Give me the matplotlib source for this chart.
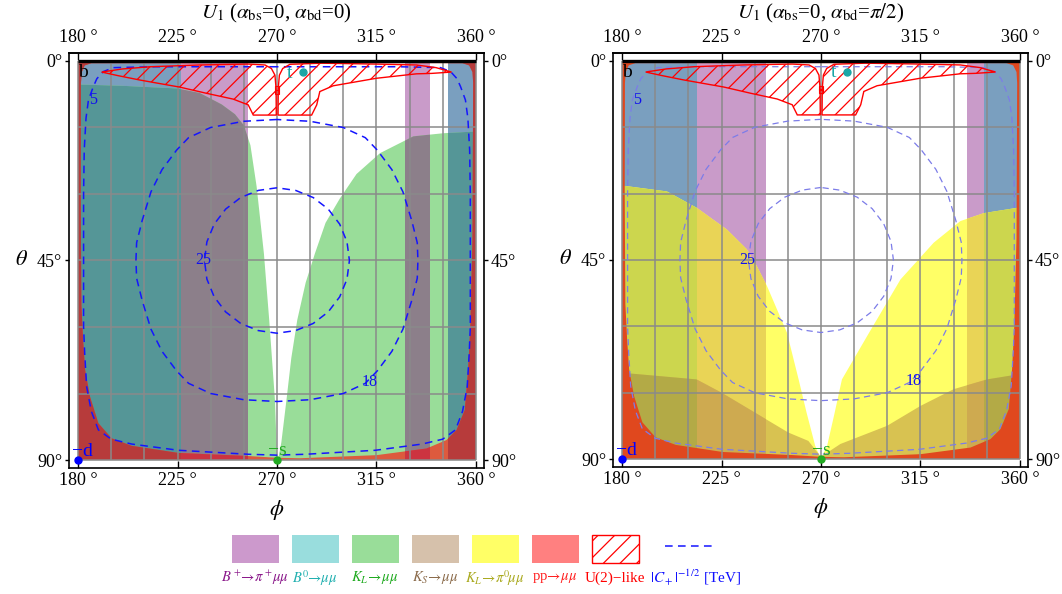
import numpy as np
import matplotlib
matplotlib.use("Agg")
import matplotlib.pyplot as plt
from matplotlib.patches import Polygon, Rectangle, PathPatch
from matplotlib.path import Path

plt.rcParams['font.family'] = ['Liberation Serif', 'DejaVu Serif']
plt.rcParams['mathtext.fontset'] = 'stix'
plt.rcParams['hatch.linewidth'] = 0.9

# ---- axes / grid ----
phi_ticks = [180, 225, 270, 315, 360]
theta_ticks = [0, 45, 90]
grid_phi = [180, 195, 210, 225, 240, 255, 270, 285, 300, 315, 330, 345, 360]
grid_theta = [0, 15, 30, 45, 60, 75, 90]
titles = [r'$U_1$ ($\alpha_{\rm bs}$=0, $\alpha_{\rm bd}$=0)',
          r'$U_1$ ($\alpha_{\rm bs}$=0, $\alpha_{\rm bd}$=$\pi/2$)']

# ---- vertical exclusion bands (phi ranges) ----
b0_bands = [[(180, 226.5), (347.5, 360)], [(180, 213.8), (344.0, 360)]]
bp_bands = [[(226.5, 257.0), (327.9, 339.2)], [(213.8, 245.2), (335.9, 344.0)]]

# ---- K_L -> mu mu boundaries (panel 1), excluded below the curve ----
kl_left_phi = [180, 200, 225, 235, 245, 251, 255, 258, 260.8, 264.1, 266.5, 269.1, 270]
kl_left_theta = [5.3, 5.6, 6.2, 7.2, 9.8, 12.0, 14.5, 19.0, 28.3, 43.4, 58.4, 76.5, 89.0]
kl_right_phi = [270.5, 272, 274.3, 276.5, 279.2, 283.0, 287.2, 292.0, 298.5, 306.0, 316.6, 331.7, 345.2, 360]
kl_right_theta = [90, 86, 76.5, 67.0, 58.4, 50.0, 43.4, 36.5, 31.0, 25.5, 20.8, 17.0, 16.3, 15.9]

# ---- K_L -> pi0 mu mu boundaries (panel 2) ----
yl_left_phi = [180, 182.1, 200.3, 213.8, 227.4, 236.5, 241.0, 245.6, 254.6, 259.9, 263.5, 267.4, 270]
yl_left_theta = [28.2, 28.3, 29.5, 33.2, 38.1, 42.6, 46.4, 50.9, 61.4, 72.0, 79.5, 87.0, 90]
yl_right_phi = [270, 272.8, 276.0, 279.5, 290.9, 306.0, 321.0, 333.1, 343.7, 358.8, 360]
yl_right_theta = [90, 87.0, 80.0, 72.0, 62.2, 49.4, 41.1, 36.2, 34.4, 33.2, 33.1]

# ---- K_S -> mu mu boundary (panel 2) ----
ks_phi = [180, 213.7, 225, 240.1, 255.2, 264.3, 270, 278.8, 299.9, 315, 330.1, 345.2, 360]
ks_theta = [70.5, 72.0, 75.0, 79.5, 84.0, 85.9, 89.5, 86.6, 82.5, 78.0, 74.2, 72.0, 70.8]

# ---- pp -> mu mu allowed region (excluded outside) ----
pp_phi = [270, 186, 183, 181.7, 181.3, 181.2, 181.5, 182.3, 183.2, 185.4, 189.2, 195.2, 204.3,
          225.4, 257, 270, 280.4, 315.1, 337.7, 346.7, 351.3, 355.0, 356.5, 357.5, 358.5, 358.8,
          358.5, 357, 354, 270]
pp_theta = [0.5, 0.5, 1.0, 2.5, 5, 30, 55, 63, 69.7, 75.7, 81.7, 85.1, 86.8, 88.4, 89.1, 89.5,
            89.6, 88.9, 87.4, 85.5, 83.2, 78.7, 69.7, 60, 40, 5, 2.5, 1.0, 0.5, 0.5]

# ---- U(2)-like hatched region (two lobes) ----
u2_left_phi = [190.7, 200, 212.6, 235, 257, 264.6, 267.5, 269.1, 269.6, 269.7,
               259.3, 257, 250.2, 238.2, 226.1, 208, 198]
u2_left_theta = [2.5, 1.8, 1.3, 0.9, 0.7, 0.9, 1.7, 3.2, 6.2, 12.2,
                 12.2, 9.9, 8.6, 7.3, 5.9, 4.3, 3.3]
u2_right_phi = [270.5, 270.6, 271.1, 272.6, 275.9, 290, 315, 333.1, 342, 349,
                340, 333.1, 315, 295.4, 289.4, 288, 285.7]
u2_right_theta = [12.2, 6.2, 3.2, 1.7, 0.75, 0.5, 0.7, 0.9, 1.5, 2.5,
                  2.8, 2.9, 3.9, 5.6, 6.9, 9.9, 12.2]
u2_mark_theta = [6.2, 6.9]

# ---- |C+|^(-1/2) contours [TeV] ----
c5_phi_half = [270, 215, 196, 191.4, 188.5, 186.9, 184.7, 183.6, 182.8, 182.5, 182.5, 182.5,
               183.0, 183.9, 186.0, 189.2, 195.0, 204.3, 225.4, 257.0, 270]
c5_theta_half = [1.3, 1.3, 1.5, 2.4, 4.0, 5.8, 8.8, 12.9, 20, 30, 45, 60,
                 66, 73.5, 79, 83.2, 85.3, 86.4, 87.8, 88.7, 88.9]
c18_phi_q = [270, 255, 240, 230, 224.6, 218, 213, 209, 206.5, 206.2]
c18_theta_q = [13.2, 13.6, 15.0, 17.3, 20.1, 24.5, 29.5, 36, 41, 45]
c25_phi_q = [270, 261.5, 253.6, 246.8, 241.6, 238.3, 237.2]
c25_theta_q = [28.6, 29.2, 30.8, 33.4, 36.8, 40.8, 45]
contour_levels = ['5', '18', '25']
contour_lab_phi = [186.6, 312.0, 236.8]
contour_lab_theta = [8.8, 72.3, 45.0]

# ---- quark markers ----
quark_names = ['b', 't', '\u2212d', '\u2212s']
quark_phi = [180, 282, 180, 270]
quark_theta = [0, 2.5, 90, 90]
quark_colors = ['black', '#1aa6a6', '#0000ff', '#22aa22']
quark_offsets = [(3.6, -8.6), (-10, -0.7), (2.9, 5.8), (0, 6.5)]

# ---- legend ----
leg_labels = [r'$B^+\!\!\to\!\pi^+\!\mu\mu$', r'$B^0\!\!\to\!\mu\mu$', r'$K_L\!\to\!\mu\mu$',
              r'$K_S\!\to\!\mu\mu$', r'$K_L\!\to\!\pi^0\!\mu\mu$', r'pp$\!\to\!\mu\mu$',
              'U(2)\u2212like', r'$|C_+|^{-1/2}$ [TeV]']
leg_fill = ['#cc99cc', '#99dddd', '#99dd99', '#d6c1ab', '#ffff66', '#ff8080', 'hatch', 'line']
leg_text = ['#8b1a8b', '#22b0b0', '#1faa1f', '#8b6b4b', '#aaaa20', '#ff2020', '#ff0000', '#1010ff']

col = dict(b0='#7a9fbf', bp='#c99bc9', kl='#99dd99', b0_kl='#559697', bp_kl='#8c7f8a',
           pp='#dd5a3e', pp_b0='#b73b3b', pp_bp='#cc3440',
           yl='#ffff66', b0_yl='#ccd64e', bp_yl='#e9d456', ks='#d8c251',
           b0_ks='#b3aa46', bp_ks='#ceaa50', pp2='#e0481e')


def below(ax, phi, theta, color):
    pts = list(zip(phi, theta)) + [(phi[-1], 90), (phi[0], 90)]
    p = Polygon(pts, closed=True, facecolor=color, edgecolor='none', zorder=1)
    ax.add_patch(p)
    return p


def bands(ax, spans, color, clip=None):
    for a, b in spans:
        r = Rectangle((a, 0), b - a, 90, facecolor=color, edgecolor='none', zorder=1)
        ax.add_patch(r)
        if clip is not None:
            r.set_clip_path(clip)


def area(x, y):
    return 0.5 * np.sum(np.array(x[:-1]) * np.array(y[1:]) - np.array(x[1:]) * np.array(y[:-1]))


def outside(ax, phi, theta, color):
    outer_x = [180, 360, 360, 180, 180]
    outer_y = [0, 0, 90, 90, 0]
    ix, iy = list(phi), list(theta)
    if np.sign(area(ix, iy)) == np.sign(area(outer_x, outer_y)):
        ix, iy = ix[::-1], iy[::-1]
    verts = list(zip(outer_x, outer_y)) + list(zip(ix, iy))
    codes = ([Path.MOVETO] + [Path.LINETO] * 3 + [Path.CLOSEPOLY] +
             [Path.MOVETO] + [Path.LINETO] * (len(ix) - 2) + [Path.CLOSEPOLY])
    p = PathPatch(Path(verts, codes), facecolor=color, edgecolor='none', zorder=1)
    ax.add_patch(p)
    return p


def quarter_loop(q_phi, q_theta):
    p, t = np.asarray(q_phi, float), np.asarray(q_theta, float)
    lp = np.concatenate([p, p[::-1][1:]])
    lt = np.concatenate([t, 90 - t[::-1][1:]])
    return np.concatenate([lp, 540 - lp[::-1][1:]]), np.concatenate([lt, lt[::-1][1:]])


def half_loop(h_phi, h_theta):
    p, t = np.asarray(h_phi, float), np.asarray(h_theta, float)
    return np.concatenate([p, 540 - p[::-1][1:]]), np.concatenate([t, t[::-1][1:]])


contours = [half_loop(c5_phi_half, c5_theta_half),
            quarter_loop(c18_phi_q, c18_theta_q),
            quarter_loop(c25_phi_q, c25_theta_q)]

fig = plt.figure(figsize=(10.62, 5.94), dpi=100)
W, H = 1062, 594
ax_boxes = [(69, 53, 484, 468), (613, 53, 1028, 467)]

for k, (x0, y0, x1, y1) in enumerate(ax_boxes):
    ax = fig.add_axes([x0 / W, 1 - y1 / H, (x1 - x0) / W, (y1 - y0) / H])
    ax.set_xlim(175.9, 363.7)
    ax.set_ylim(91.8, -1.8)

    bands(ax, b0_bands[k], col['b0'])
    bands(ax, bp_bands[k], col['bp'])
    if k == 0:
        polys = [below(ax, kl_left_phi, kl_left_theta, col['kl']),
                 below(ax, kl_right_phi, kl_right_theta, col['kl'])]
        for p in polys:
            bands(ax, b0_bands[k], col['b0_kl'], clip=p)
            bands(ax, bp_bands[k], col['bp_kl'], clip=p)
        pp = outside(ax, pp_phi, pp_theta, col['pp'])
        bands(ax, b0_bands[k], col['pp_b0'], clip=pp)
        bands(ax, bp_bands[k], col['pp_bp'], clip=pp)
        ccol, clw = '#1515ff', 1.1
    else:
        polys = [below(ax, yl_left_phi, yl_left_theta, col['yl']),
                 below(ax, yl_right_phi, yl_right_theta, col['yl'])]
        for p in polys:
            bands(ax, b0_bands[k], col['b0_yl'], clip=p)
            bands(ax, bp_bands[k], col['bp_yl'], clip=p)
        ks = below(ax, ks_phi, ks_theta, col['ks'])
        bands(ax, b0_bands[k], col['b0_ks'], clip=ks)
        bands(ax, bp_bands[k], col['bp_ks'], clip=ks)
        outside(ax, pp_phi, pp_theta, col['pp2'])
        ccol, clw = '#7c7ce8', 0.9

    # grid
    ax.vlines(grid_phi, 0, 90, colors='#8a8a8a', lw=1.1, zorder=3)
    ax.hlines(grid_theta, 180, 360, colors='#8a8a8a', lw=1.1, zorder=3)

    # contours
    for (cp, ct), lab, lx, ly in zip(contours, contour_levels, contour_lab_phi, contour_lab_theta):
        ax.plot(cp, ct, ls=(0, (5, 3.5)), color=ccol, lw=clw, zorder=4)
        ax.text(lx, ly, lab, color='#1010ee', fontsize=11.5, ha='center', va='center', zorder=8)

    # U(2)-like hatched lobes
    for up, ut in [(u2_left_phi, u2_left_theta), (u2_right_phi, u2_right_theta)]:
        ax.add_patch(Polygon(list(zip(up, ut)), closed=True, facecolor='none',
                             edgecolor='red', hatch='//', lw=1.0, zorder=5))
    ax.plot([270] * len(u2_mark_theta), u2_mark_theta, 's', ms=3, mfc='none', mec='red', mew=0.8, zorder=5)

    # theta = 0 line
    ax.hlines(0, 180, 360, colors='black', lw=2.4, zorder=6)

    # quark points
    for name, qp, qt, qc, off in zip(quark_names, quark_phi, quark_theta, quark_colors, quark_offsets):
        if name != 'b':
            ax.plot(qp, qt, 'o', ms=5, color=qc, zorder=7, clip_on=False)
        ax.annotate(name, (qp, qt), xytext=off, textcoords='offset points', color=qc,
                    fontsize=14, ha='center', va='center', zorder=8, annotation_clip=False)

    # ticks
    ax.set_xticks(phi_ticks)
    ax.set_xticklabels([f'{v} °' for v in phi_ticks])
    ax.set_yticks(theta_ticks)
    ax.set_yticklabels([f'{v}°' for v in theta_ticks])
    ax.tick_params(axis='x', direction='in', length=5, width=1, labelsize=13, pad=3)
    ax.tick_params(axis='y', direction='out', length=3, width=1, labelsize=13, pad=2,
                   right=True, labelright=True)
    top = ax.secondary_xaxis('top')
    top.set_xticks(phi_ticks)
    top.set_xticklabels([f'{v} °' for v in phi_ticks])
    top.tick_params(direction='in', length=5, width=1, labelsize=13, pad=5)
    for sp in list(ax.spines.values()) + list(top.spines.values()):
        sp.set_linewidth(1.2)

    ax.set_xlabel(r'$\phi$', fontsize=16, labelpad=6)
    ax.set_ylabel(r'$\theta$', fontsize=16, rotation=0, labelpad=6, ha='right', va='center')
    ax.text(0.5, (y1 - 13) / (y1 - y0), titles[k], transform=ax.transAxes,
            ha='center', va='center', fontsize=15)

# legend strip
leg = fig.add_axes([0, 0, 1, 84 / H])
leg.set_xlim(0, W)
leg.set_ylim(84, 0)
leg.axis('off')
for i, (lab, fc, tc) in enumerate(zip(leg_labels, leg_fill, leg_text)):
    cx = 255 + 60 * i
    if fc == 'line':
        cx = 689
        leg.plot([cx - 24, cx + 24], [36, 36], ls=(0, (5, 3.5)), color='#1515ff', lw=1.1)
        leg.text(cx + 7, 68, lab, color=tc, fontsize=11, ha='center', va='center')
        continue
    if fc == 'hatch':
        leg.add_patch(Rectangle((cx - 23.5, 25), 47, 28, facecolor='white', edgecolor='red',
                                hatch='//', lw=1.0))
    else:
        leg.add_patch(Rectangle((cx - 23.5, 25), 47, 28, facecolor=fc, edgecolor='none'))
    leg.text(cx, 68, lab, color=tc, fontsize=10.5 if i < 6 else 11, ha='center', va='center')

fig.savefig('out.png', dpi=100)
